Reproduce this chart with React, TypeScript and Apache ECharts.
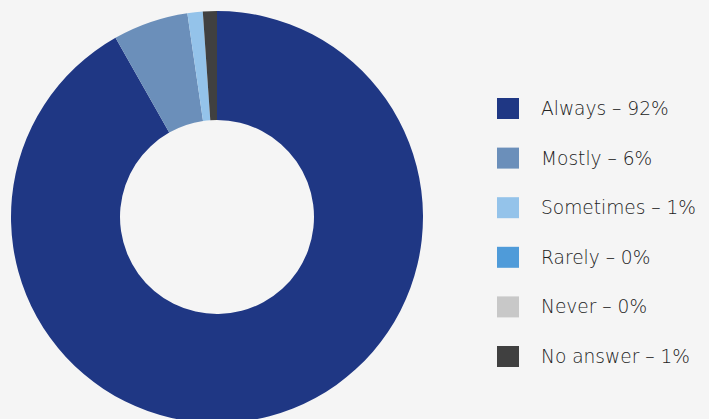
import React, { useEffect, useRef } from "react";
import * as echarts from "echarts";

const categories = ["Always", "Mostly", "Sometimes", "Rarely", "Never", "No answer"];
const values = [91.8, 5.9, 1.2, 0, 0, 1.1];
const labelPercents = [92, 6, 1, 0, 0, 1];
const colors = ["#1f3784", "#6b8fba", "#94c3ea", "#4f9bd9", "#c8c8c8", "#404040"];

export default function App() {
  const ref = useRef<HTMLDivElement>(null);
  useEffect(() => {
    const chart = echarts.init(ref.current!, undefined, { renderer: "svg" });
    chart.setOption({
      animation: false,
      backgroundColor: "#f5f5f5",
      color: colors,
      legend: {
        orient: "vertical",
        left: 497,
        top: 98,
        padding: 0,
        itemWidth: 22,
        itemHeight: 21,
        itemGap: 28.6,
        icon: "rect",
        selectedMode: false,
        data: categories,
        formatter: (name: string) => {
          const i = categories.indexOf(name);
          return `${name} – ${labelPercents[i]}%`;
        },
        textStyle: {
          fontFamily: "DejaVu Sans",
          fontSize: 18.6,
          fontWeight: 300,
          color: "#222222",
          padding: [0, 0, 0, 17],
        },
      },
      series: [
        {
          type: "pie",
          center: [217, 217],
          radius: [97, 206],
          startAngle: 90,
          clockwise: true,
          label: { show: false },
          labelLine: { show: false },
          emphasis: { disabled: true },
          itemStyle: { borderWidth: 0 },
          data: categories.map((c, i) => ({ name: c, value: values[i] })),
        },
      ],
    });
    return () => chart.dispose();
  }, []);
  return (
    <div
      ref={ref}
      style={{ position: "fixed", left: 0, top: 0, width: 709, height: 419 }}
    />
  );
}
